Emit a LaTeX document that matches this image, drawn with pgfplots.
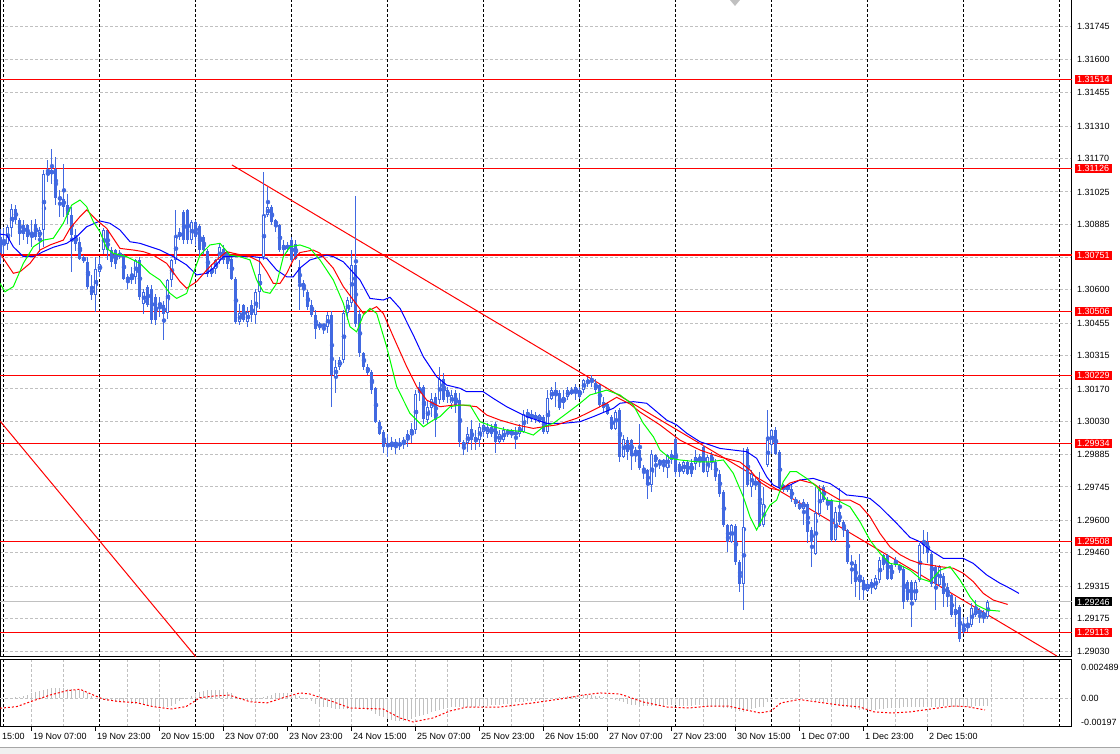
\documentclass[border=0pt]{standalone}
\usepackage{fontspec}
\setmainfont{Liberation Sans}
\usepackage{pgfplots}
\usepackage{pgfplotstable}
\pgfplotsset{compat=1.18}

\definecolor{cblue}{RGB}{65,105,225}
\definecolor{silv}{RGB}{192,192,192}
\definecolor{lime}{RGB}{0,255,0}

% bar index i (H1, 0 = 19 Nov 00:00), open, high, low, close, macd main
\pgfplotstableread{
i o h l c m
-1 1.30830 1.30867 1.30715 1.30751 -0.00008
0 1.30794 1.30867 1.30758 1.30809 0
1 1.30801 1.30881 1.30772 1.30874 0
2 1.30867 1.30975 1.30830 1.30950 0.00008
3 1.30953 1.30968 1.30888 1.30903 0.00016
4 1.30903 1.30910 1.30794 1.30845 0.00016
5 1.30881 1.30903 1.30816 1.30845 0.00024
6 1.30881 1.30888 1.30801 1.30830 0.00032
7 1.30830 1.30903 1.30787 1.30840 0.00041
8 1.30888 1.30910 1.30816 1.30830 0.00049
9 1.30830 1.30874 1.30765 1.30859 0.00057
10 1.30859 1.31123 1.30787 1.31105 0.00065
11 1.31098 1.31163 1.31069 1.31115 0.00073
12 1.31105 1.31214 1.31062 1.31120 0.00081
13 1.31123 1.31178 1.30968 1.30997 0.00081
14 1.30990 1.31033 1.30917 1.31004 0.00081
15 1.30997 1.31149 1.30917 1.30961 0.00081
16 1.30968 1.31018 1.30888 1.30924 0.00073
17 1.30924 1.30961 1.30678 1.30838 0.00073
18 1.30840 1.30867 1.30772 1.30801 0.00065
19 1.30809 1.30830 1.30729 1.30736 0.00065
20 1.30744 1.30751 1.30715 1.30726 0.00057
21 1.30722 1.30744 1.30606 1.30613 0.00041
22 1.30613 1.30664 1.30555 1.30577 0.00024
23 1.30577 1.30744 1.30505 1.30693 0.00008
24 1.30678 1.30744 1.30657 1.30715 -0.00008
25 1.30772 1.30867 1.30758 1.30859 -0.00016
26 1.30859 1.30867 1.30729 1.30772 -0.00024
27 1.30772 1.30787 1.30700 1.30722 -0.00024
28 1.30772 1.30780 1.30693 1.30715 -0.00032
29 1.30744 1.30772 1.30736 1.30758 -0.00032
30 1.30751 1.30758 1.30642 1.30649 -0.00032
31 1.30657 1.30671 1.30606 1.30642 -0.00032
32 1.30642 1.30700 1.30628 1.30664 -0.00041
33 1.30657 1.30736 1.30628 1.30729 -0.00041
34 1.30729 1.30744 1.30555 1.30570 -0.00041
35 1.30541 1.30606 1.30498 1.30592 -0.00049
36 1.30613 1.30621 1.30527 1.30534 -0.00057
37 1.30606 1.30621 1.30454 1.30469 -0.00065
38 1.30570 1.30584 1.30447 1.30469 -0.00065
39 1.30534 1.30570 1.30483 1.30541 -0.00073
40 1.30534 1.30555 1.30382 1.30498 -0.00073
41 1.30498 1.30649 1.30476 1.30642 -0.00065
42 1.30642 1.30736 1.30613 1.30729 -0.00057
43 1.30729 1.30946 1.30715 1.30830 -0.00041
44 1.30830 1.30867 1.30816 1.30852 -0.00024
45 1.30939 1.30946 1.30801 1.30816 -0.00008
46 1.30946 1.30953 1.30801 1.30816 0.00008
47 1.30816 1.30903 1.30801 1.30895 0.00024
48 1.30895 1.30903 1.30794 1.30830 0.00041
49 1.30877 1.30888 1.30744 1.30772 0.00049
50 1.30830 1.30838 1.30751 1.30772 0.00057
51 1.30772 1.30780 1.30657 1.30671 0.00065
52 1.30671 1.30715 1.30657 1.30693 0.00065
53 1.30693 1.30736 1.30671 1.30729 0.00065
54 1.30729 1.30801 1.30715 1.30787 0.00065
55 1.30780 1.30794 1.30715 1.30729 0.00057
56 1.30765 1.30772 1.30693 1.30715 0.00049
57 1.30736 1.30744 1.30642 1.30649 0.00041
58 1.30649 1.30657 1.30454 1.30462 0.00024
59 1.30462 1.30541 1.30447 1.30498 0.00008
60 1.30534 1.30541 1.30462 1.30469 -0.00008
61 1.30462 1.30527 1.30440 1.30505 -0.00016
62 1.30534 1.30555 1.30462 1.30490 -0.00024
63 1.30490 1.30606 1.30454 1.30592 -0.00016
64 1.30592 1.30744 1.30519 1.30671 -0.00008
65 1.30744 1.31113 1.30729 1.30924 0.00016
66 1.30924 1.31047 1.30917 1.30961 0.00024
67 1.30961 1.30968 1.30881 1.30895 0.00032
68 1.30903 1.30910 1.30852 1.30881 0.00041
69 1.30881 1.30888 1.30765 1.30772 0.00041
70 1.30772 1.30816 1.30758 1.30794 0.00041
71 1.30780 1.30809 1.30765 1.30794 0.00041
72 1.30816 1.30830 1.30722 1.30729 0.00041
73 1.30801 1.30816 1.30729 1.30736 0.00032
74 1.30701 1.30730 1.30513 1.30629 0.00024
75 1.30629 1.30643 1.30571 1.30607 0.00008
76 1.30592 1.30600 1.30513 1.30527 -0.00008
77 1.30535 1.30556 1.30484 1.30491 -0.00024
78 1.30491 1.30513 1.30390 1.30433 -0.00041
79 1.30448 1.30462 1.30426 1.30445 -0.00057
80 1.30448 1.30455 1.30412 1.30445 -0.00065
81 1.30440 1.30506 1.30412 1.30491 -0.00073
82 1.30491 1.30506 1.30093 1.30231 -0.00081
83 1.30223 1.30296 1.30151 1.30267 -0.00089
84 1.30267 1.30310 1.30252 1.30296 -0.00089
85 1.30296 1.30513 1.30281 1.30498 -0.00089
86 1.30498 1.30571 1.30469 1.30556 -0.00089
87 1.30542 1.30773 1.30527 1.30708 -0.00081
88 1.30708 1.31010 1.30440 1.30455 -0.00081
89 1.30498 1.30513 1.30310 1.30325 -0.00081
90 1.30325 1.30332 1.30252 1.30267 -0.00089
91 1.30267 1.30281 1.30231 1.30238 -0.00097
92 1.30245 1.30252 1.30151 1.30166 -0.00105
93 1.30173 1.30180 1.30021 1.30028 -0.00122
94 1.30028 1.30035 1.29970 1.29977 -0.00138
95 1.29985 1.29992 1.29891 1.29920 -0.00154
96 1.29931 1.29977 1.29876 1.29923 -0.00170
97 1.29923 1.29963 1.29905 1.29934 -0.00178
98 1.29941 1.29956 1.29891 1.29924 -0.00186
99 1.29934 1.29956 1.29905 1.29926 -0.00186
100 1.29934 1.29963 1.29912 1.29949 -0.00186
101 1.29949 1.29992 1.29920 1.29977 -0.00178
102 1.29970 1.30021 1.29934 1.29999 -0.00170
103 1.29992 1.30166 1.29977 1.30151 -0.00154
104 1.30151 1.30202 1.30122 1.30180 -0.00138
105 1.30180 1.30187 1.30021 1.30043 -0.00130
106 1.30035 1.30122 1.30021 1.30093 -0.00122
107 1.30086 1.30151 1.30050 1.30129 -0.00113
108 1.30137 1.30151 1.29963 1.30035 -0.00105
109 1.30122 1.30267 1.30108 1.30216 -0.00097
110 1.30216 1.30238 1.30115 1.30122 -0.00089
111 1.30166 1.30180 1.30108 1.30137 -0.00081
112 1.30108 1.30166 1.30086 1.30144 -0.00073
113 1.30151 1.30166 1.30064 1.30100 -0.00073
114 1.30122 1.30151 1.29920 1.29941 -0.00065
115 1.29941 1.29949 1.29883 1.29920 -0.00065
116 1.29934 1.30006 1.29898 1.29977 -0.00065
117 1.29999 1.30035 1.29905 1.29949 -0.00065
118 1.29963 1.29992 1.29905 1.29941 -0.00065
119 1.29949 1.30021 1.29920 1.30006 -0.00057
120 1.29985 1.30028 1.29963 1.30014 -0.00057
121 1.29977 1.30021 1.29956 1.30006 -0.00057
122 1.30006 1.30021 1.29963 1.29977 -0.00049
123 1.30021 1.30028 1.29891 1.29941 -0.00049
124 1.29941 1.29992 1.29934 1.29977 -0.00049
125 1.29949 1.30006 1.29941 1.29992 -0.00041
126 1.29977 1.29999 1.29963 1.29992 -0.00041
127 1.29992 1.29999 1.29956 1.29970 -0.00041
128 1.29985 1.30006 1.29912 1.29970 -0.00032
129 1.29977 1.30021 1.29963 1.30006 -0.00032
130 1.29985 1.30079 1.29977 1.30064 -0.00032
131 1.30050 1.30086 1.30021 1.30072 -0.00024
132 1.30064 1.30079 1.30028 1.30043 -0.00024
133 1.30057 1.30072 1.30021 1.30035 -0.00024
134 1.30028 1.30064 1.30021 1.30057 -0.00016
135 1.30050 1.30057 1.29977 1.29985 -0.00016
136 1.29985 1.30166 1.29977 1.30129 -0.00008
137 1.30129 1.30180 1.30122 1.30166 0
138 1.30151 1.30202 1.30093 1.30166 0.00008
139 1.30151 1.30166 1.30079 1.30086 0.00016
140 1.30108 1.30166 1.30086 1.30137 0.00016
141 1.30137 1.30180 1.30122 1.30166 0.00024
142 1.30166 1.30180 1.30144 1.30151 0.00024
143 1.30151 1.30195 1.30122 1.30180 0.00024
144 1.30166 1.30180 1.30129 1.30137 0.00032
145 1.30166 1.30216 1.30151 1.30209 0.00032
146 1.30195 1.30223 1.30180 1.30209 0.00032
147 1.30202 1.30231 1.30180 1.30216 0.00032
148 1.30195 1.30216 1.30151 1.30166 0.00024
149 1.30187 1.30194 1.30093 1.30100 0.00024
150 1.30115 1.30136 1.30071 1.30086 0.00016
151 1.30107 1.30115 1.30057 1.30064 0.00008
152 1.30049 1.30057 1.29992 1.29999 0
153 1.29999 1.30078 1.29992 1.30071 -0.00016
154 1.30078 1.30086 1.29854 1.29876 -0.00024
155 1.29876 1.29970 1.29869 1.29955 -0.00032
156 1.29948 1.29963 1.29861 1.29897 -0.00041
157 1.29948 1.29955 1.29818 1.29890 -0.00049
158 1.29890 1.29919 1.29854 1.29905 -0.00049
159 1.29905 1.30020 1.29818 1.29825 -0.00057
160 1.29825 1.29840 1.29782 1.29818 -0.00057
161 1.29818 1.29825 1.29695 1.29753 -0.00057
162 1.29753 1.29905 1.29724 1.29890 -0.00057
163 1.29883 1.29890 1.29789 1.29854 -0.00057
164 1.29861 1.29869 1.29825 1.29847 -0.00057
165 1.29847 1.29869 1.29811 1.29861 -0.00057
166 1.29825 1.29890 1.29782 1.29883 -0.00049
167 1.29861 1.29905 1.29847 1.29890 -0.00049
168 1.29955 1.29963 1.29789 1.29811 -0.00049
169 1.29847 1.29854 1.29789 1.29811 -0.00057
170 1.29811 1.29861 1.29803 1.29854 -0.00057
171 1.29854 1.29861 1.29796 1.29803 -0.00057
172 1.29847 1.29869 1.29789 1.29803 -0.00057
173 1.29847 1.29905 1.29818 1.29876 -0.00049
174 1.29861 1.29890 1.29832 1.29876 -0.00049
175 1.29919 1.29926 1.29803 1.29811 -0.00057
176 1.29811 1.29883 1.29789 1.29876 -0.00057
177 1.29883 1.29897 1.29818 1.29854 -0.00065
178 1.29854 1.29869 1.29774 1.29789 -0.00065
179 1.29803 1.29818 1.29702 1.29717 -0.00073
180 1.29724 1.29731 1.29572 1.29579 -0.00081
181 1.29579 1.29586 1.29463 1.29507 -0.00081
182 1.29507 1.29586 1.29500 1.29579 -0.00089
183 1.29579 1.29586 1.29406 1.29420 -0.00097
184 1.29420 1.29427 1.29290 1.29326 -0.00105
185 1.29326 1.29912 1.29210 1.29572 -0.00113
186 1.29912 1.29919 1.29746 1.29753 -0.00097
187 1.29746 1.29818 1.29702 1.29803 -0.00089
188 1.29753 1.29789 1.29731 1.29774 -0.00081
189 1.29774 1.29811 1.29572 1.29579 -0.00073
190 1.29579 1.29746 1.29572 1.29673 -0.00065
191 1.29840 1.30078 1.29832 1.29948 -0.00032
192 1.29926 1.29999 1.29890 1.29992 -0.00016
193 1.29992 1.30006 1.29883 1.29890 -0.00008
194 1.29897 1.29905 1.29738 1.29746 0
195 1.29753 1.29760 1.29724 1.29731 0.00008
196 1.29731 1.29760 1.29724 1.29753 0.00008
197 1.29738 1.29753 1.29680 1.29695 0.00008
198 1.29695 1.29702 1.29659 1.29673 0.00008
199 1.29673 1.29688 1.29644 1.29651 0
200 1.29651 1.29695 1.29579 1.29680 0
201 1.29673 1.29680 1.29500 1.29550 -0.00008
202 1.29557 1.29572 1.29398 1.29507 -0.00016
203 1.29456 1.29746 1.29449 1.29630 -0.00024
204 1.29630 1.29753 1.29615 1.29738 -0.00024
205 1.29746 1.29753 1.29681 1.29688 -0.00032
206 1.29666 1.29702 1.29645 1.29688 -0.00032
207 1.29688 1.29695 1.29507 1.29514 -0.00041
208 1.29514 1.29659 1.29507 1.29637 -0.00049
209 1.29637 1.29739 1.29579 1.29594 -0.00057
210 1.29594 1.29601 1.29529 1.29558 -0.00065
211 1.29558 1.29565 1.29413 1.29420 -0.00073
212 1.29420 1.29449 1.29326 1.29406 -0.00081
213 1.29413 1.29427 1.29268 1.29333 -0.00089
214 1.29333 1.29456 1.29254 1.29348 -0.00097
215 1.29341 1.29355 1.29254 1.29297 -0.00097
216 1.29297 1.29341 1.29290 1.29326 -0.00097
217 1.29312 1.29348 1.29283 1.29333 -0.00097
218 1.29304 1.29362 1.29297 1.29348 -0.00097
219 1.29341 1.29442 1.29326 1.29427 -0.00089
220 1.29449 1.29456 1.29384 1.29406 -0.00089
221 1.29449 1.29456 1.29341 1.29348 -0.00081
222 1.29406 1.29413 1.29341 1.29348 -0.00081
223 1.29406 1.29442 1.29399 1.29427 -0.00081
224 1.29391 1.29413 1.29370 1.29406 -0.00081
225 1.29391 1.29406 1.29218 1.29247 -0.00073
226 1.29333 1.29341 1.29247 1.29254 -0.00073
227 1.29333 1.29341 1.29138 1.29254 -0.00073
228 1.29254 1.29341 1.29247 1.29333 -0.00073
229 1.29341 1.29500 1.29333 1.29493 -0.00065
230 1.29493 1.29558 1.29456 1.29507 -0.00065
231 1.29507 1.29550 1.29413 1.29456 -0.00065
232 1.29456 1.29464 1.29312 1.29326 -0.00065
233 1.29399 1.29406 1.29210 1.29326 -0.00065
234 1.29319 1.29406 1.29312 1.29399 -0.00065
235 1.29362 1.29370 1.29225 1.29283 -0.00057
236 1.29312 1.29326 1.29225 1.29268 -0.00057
237 1.29276 1.29283 1.29181 1.29189 -0.00065
238 1.29189 1.29268 1.29138 1.29218 -0.00065
239 1.29225 1.29232 1.29073 1.29087 -0.00073
240 1.29116 1.29181 1.29109 1.29138 -0.00073
241 1.29138 1.29181 1.29116 1.29145 -0.00065
242 1.29145 1.29239 1.29138 1.29218 -0.00065
243 1.29189 1.29254 1.29181 1.29218 -0.00057
244 1.29210 1.29218 1.29153 1.29196 -0.00057
245 1.29203 1.29210 1.29153 1.29181 -0.00057
246 1.29181 1.29254 1.29174 1.29246 -0.00057
}\candles

\tikzset{mtgrid/.style={dash pattern=on 3pt off 2pt, line width=1pt}}
\pgfplotsset{
  mtaxis/.style={
    scale only axis, width=1072pt, xmin=-1, xmax=267,
    clip mode=individual, scaled y ticks=false,
    axis line style={black, line width=1pt},
    minor xtick={7,15,31,39,55,63,79,87,103,111,127,135,151,159,175,183,199,207,223,231,247,255},
    xminorgrids, minor grid style={silv, mtgrid}, minor tick length=0pt,
    extra x ticks={0,24,...,264}, extra x tick labels={},
    extra x tick style={grid=major, major grid style={black, mtgrid}, major tick length=0pt},
    ytick pos=right, yticklabel pos=right,
    yticklabel style={anchor=west, inner sep=0pt, xshift=5pt, font=\fontsize{9}{9}\selectfont},
  },
  wick/.style={cblue, only marks, mark=none, forget plot,
    error bars/y dir=both, error bars/y explicit, error bars/error mark=none,
    error bars/error bar style={line width=1pt}},
}
\tikzset{pricebox/.style={anchor=west, xshift=2.5pt, inner xsep=2.5pt, inner ysep=1.3pt,
    text=white, font=\fontsize{9}{9}\selectfont}}

\begin{document}
\begin{tikzpicture}
\path[use as bounding box, fill=white] (0,0) rectangle (1120pt,754pt);

% ---------------- main price panel ----------------
\begin{axis}[mtaxis,
  at={(0pt,97pt)}, anchor=south west, height=657pt,
  ymin=1.29007, ymax=1.31858,
  xtick=\empty,
  ytick={1.31745,1.31600,1.31455,1.31310,1.31170,1.31025,1.30885,1.30740,1.30600,1.30455,
         1.30315,1.30170,1.30030,1.29885,1.29745,1.29600,1.29460,1.29315,1.29175,1.29030},
  yticklabels={1.31745,1.31600,1.31455,1.31310,1.31170,1.31025,1.30885,,1.30600,1.30455,
         1.30315,1.30170,1.30030,1.29885,1.29745,1.29600,1.29460,1.29315,1.29175,1.29030},
  ymajorgrids, major grid style={silv, mtgrid}, major tick length=0pt,
]
% bid line
\addplot[silv, line width=1pt] coordinates {(-1,1.29246) (267,1.29246)};
% horizontal levels
\foreach \lv in {1.31514,1.31126,1.30751,1.30506,1.30229,1.29934,1.29508,1.29113}{
  \edef\tmp{\noexpand\addplot[red, line width=1.5pt] coordinates {(-1,\lv) (267,\lv)};}\tmp
}
% trend lines
\addplot[red, line width=1pt] coordinates {(57,1.31142) (263.25,1.29011)};
\addplot[red, line width=1pt] coordinates {(-1,1.30031) (48,1.29007)};

% candles: wicks, bodies, hollow interior of up candles
\addplot[wick] table[x=i, y expr={(\thisrow{h}+\thisrow{l})/2},
  y error expr={(\thisrow{h}-\thisrow{l})/2}] {\candles};
\addplot[wick, error bars/error bar style={line width=3pt}] table[x=i, y expr={(\thisrow{o}+\thisrow{c})/2},
  y error expr={max(abs(\thisrow{o}-\thisrow{c})/2,0.00002)}] {\candles};
\addplot[restrict y to domain=1.2:1.4, wick, error bars/error bar style={line width=1pt, white}]
  table[x=i, y expr={ifthenelse(\thisrow{c}>\thisrow{o},(\thisrow{o}+\thisrow{c})/2,5)},
  y error expr={max((\thisrow{c}-\thisrow{o})/2-0.0000434,0)}] {\candles};

% alligator lines
\addplot[blue, line width=1pt] coordinates {
(-1,1.30842) (0.67,1.30838) (2.33,1.30787) (4.83,1.30744) (7.33,1.30744) (9.83,1.30766) (12.33,1.30785)
(15.67,1.30802) (18.17,1.30831) (20.67,1.30874) (24,1.30899) (26.5,1.30889) (29,1.30860) (31.5,1.30809)
(34,1.30802) (39,1.30773) (42.33,1.30744) (45.67,1.30708) (48.17,1.30665) (50.67,1.30672) (52.33,1.30694)
(54.83,1.30744) (62.33,1.30744) (65.67,1.30737) (68.17,1.30686) (70.67,1.30657) (72.33,1.30657) (74,1.30695)
(76.5,1.30730) (80.67,1.30751) (82.33,1.30744) (84.83,1.30722) (89,1.30643) (91.5,1.30563) (94.83,1.30556)
(96.5,1.30568) (99,1.30520) (102.33,1.30404) (104.83,1.30310) (108.17,1.30223) (110.67,1.30187) (114,1.30173)
(115.67,1.30158) (119.83,1.30158) (122.33,1.30129) (125.67,1.30093) (130.67,1.30050) (135.67,1.30021)
(139.83,1.30021) (144,1.30028) (147.33,1.30050) (152.33,1.30086) (154,1.30108) (157.33,1.30115) (160.67,1.30108)
(165.67,1.30035) (168.17,1.30014) (170.67,1.29978) (174,1.29941) (176.5,1.29927) (179,1.29912) (182.33,1.29905)
(185.67,1.29898) (188.17,1.29869) (190.67,1.29789) (192.33,1.29753) (194,1.29739) (196.5,1.29753) (199,1.29775)
(202.33,1.29782) (204.83,1.29768) (206.5,1.29760) (209,1.29731) (210.67,1.29710) (214.83,1.29702) (216.5,1.29695)
(219,1.29659) (223.17,1.29587) (226.5,1.29526) (229,1.29507) (231.5,1.29471) (234.83,1.29435) (239.83,1.29435)
(242.33,1.29413) (245.67,1.29363) (249,1.29327) (251.5,1.29305) (253.75,1.29283)};
\addplot[red, line width=1pt] coordinates {
(-1,1.30759) (0.67,1.30715) (2.33,1.30672) (4,1.30679) (6.5,1.30715) (9,1.30773) (11.5,1.30795) (14.83,1.30816)
(16.5,1.30867) (19,1.30918) (20.67,1.30947) (23.17,1.30903) (25.67,1.30867) (29,1.30780) (32.33,1.30773)
(34.83,1.30766) (37.33,1.30751) (40.67,1.30715) (44,1.30636) (45.67,1.30607) (48.17,1.30636) (50.67,1.30686)
(53.17,1.30730) (55.67,1.30766) (57.33,1.30759) (61.5,1.30744) (64,1.30722) (65.67,1.30679) (67.33,1.30628)
(69,1.30628) (70.67,1.30672) (72.33,1.30730) (74,1.30762) (77.33,1.30773) (79,1.30759) (82.33,1.30694)
(84.83,1.30614) (87.33,1.30556) (89.83,1.30498) (91.5,1.30513) (93.17,1.30527) (94.83,1.30498) (97.33,1.30397)
(100.67,1.30267) (103.17,1.30180) (105.67,1.30122) (109,1.30093) (112.33,1.30100) (114.83,1.30100) (118.17,1.30093)
(120.67,1.30057) (124,1.30035) (128.17,1.30014) (132.33,1.29999) (134.83,1.30006) (138.17,1.30014) (143.17,1.30043)
(146.5,1.30071) (150.67,1.30108) (153.17,1.30134) (156.5,1.30105) (159,1.30070) (164,1.30014) (169,1.29948)
(174,1.29905) (179,1.29875) (184,1.29853) (186.5,1.29818) (189,1.29766) (191.5,1.29739) (194,1.29731)
(196.5,1.29762) (199,1.29775) (202.33,1.29760) (204,1.29739) (209,1.29688) (211.5,1.29688) (214,1.29666)
(216.5,1.29616) (219,1.29543) (221.5,1.29485) (224,1.29451) (226.5,1.29428) (229,1.29413) (231.5,1.29406)
(234,1.29399) (237.33,1.29392) (239.83,1.29370) (242.33,1.29334) (244.83,1.29283) (247.33,1.29254) (250.92,1.29235)};
\addplot[lime, line width=1pt] coordinates {
(-1,1.30628) (0.25,1.30592) (2.33,1.30614) (4.83,1.30715) (7.33,1.30787) (9.83,1.30816) (12.33,1.30824)
(14.83,1.30889) (16.92,1.30968) (19,1.30990) (20.67,1.30961) (22.33,1.30896) (24,1.30852) (25.67,1.30780)
(27.33,1.30759) (30.67,1.30744) (34,1.30715) (36.5,1.30672) (39,1.30643) (41.5,1.30585) (43.17,1.30563)
(45.67,1.30585) (47.33,1.30672) (49,1.30751) (51.5,1.30795) (54,1.30802) (56.5,1.30751) (59,1.30744)
(61.5,1.30730) (63.17,1.30643) (64.83,1.30592) (66.5,1.30585) (68.17,1.30628) (69.83,1.30744) (71.5,1.30787)
(74,1.30795) (76.5,1.30780) (79,1.30730) (82.33,1.30643) (84.83,1.30542) (86.5,1.30440) (88.17,1.30418)
(89.83,1.30491) (91.5,1.30520) (93.17,1.30498) (95.67,1.30353) (98.17,1.30180) (101.5,1.30064) (104.83,1.30006)
(107.33,1.30035) (109,1.30050) (111.5,1.30093) (114,1.30100) (116.5,1.30100) (119,1.30028) (122.33,1.30006)
(125.67,1.29992) (129.83,1.29985) (132.33,1.29970) (134.83,1.30006) (137.33,1.30021) (140.67,1.30064)
(144,1.30108) (146.5,1.30144) (150.67,1.30165) (154,1.30144) (157.33,1.30100) (159.83,1.30021) (162.33,1.29963)
(164,1.29905) (166.5,1.29869) (169,1.29862) (173.17,1.29854) (176.5,1.29854) (179.83,1.29862) (182.33,1.29804)
(184.83,1.29702) (186.5,1.29616) (188.17,1.29558) (189.83,1.29616) (191.5,1.29666) (193.17,1.29688)
(194.83,1.29768) (196.5,1.29811) (198.17,1.29811) (200.67,1.29782) (203.17,1.29746) (205.67,1.29688)
(209,1.29681) (211.5,1.29659) (214,1.29594) (216.5,1.29514) (219,1.29457) (221.5,1.29413) (224,1.29406)
(226.5,1.29384) (229,1.29348) (231.5,1.29334) (234,1.29384) (236.5,1.29399) (239,1.29341) (241.5,1.29268)
(243.17,1.29232) (245.67,1.29211) (249,1.29206)};

% price labels on the right scale
\foreach \lv in {1.31514,1.31126,1.30751,1.30506,1.30229,1.29934,1.29508,1.29113}{
  \edef\tmp{\noexpand\node[pricebox, fill=red] at (axis cs:267,\lv) {\lv};}\tmp
}
\node[pricebox, fill=black] at (axis cs:267,1.29246) {1.29246};
\end{axis}

% ---------------- MACD panel ----------------
\begin{axis}[mtaxis,
  at={(0pt,27pt)}, anchor=south west, height=67pt,
  ymin=-0.00231, ymax=0.00312,
  xtick={7,23,39,55,71,87,103,119,135,151,167,183,199,215,231},
  xticklabels={19 Nov 07:00,19 Nov 23:00,20 Nov 15:00,23 Nov 07:00,23 Nov 23:00,24 Nov 15:00,
    25 Nov 07:00,25 Nov 23:00,26 Nov 15:00,27 Nov 07:00,27 Nov 23:00,30 Nov 15:00,
    1 Dec 07:00,1 Dec 23:00,2 Dec 15:00},
  xtick pos=bottom, tick align=outside, major tick length=4pt,
  x tick style={black, line width=1pt},
  xticklabel style={anchor=north west, inner sep=0pt, xshift=1pt, yshift=-2pt,
    font=\fontsize{9}{9}\selectfont},
  ytick={0}, yticklabels={0.00},
  ymajorgrids, major grid style={silv, mtgrid},
  y tick style={draw=none},
  extra y ticks={0.002489,-0.00197}, extra y tick labels={0.002489,-0.00197},
  extra y tick style={grid=none},
]
\addplot[ycomb, silv, line width=1pt, mark=none] table[x=i, y=m] {\candles};
\addplot[red, line width=1pt, dash pattern=on 2pt off 2pt] coordinates {
(-1,-0.00079) (3.17,-0.00066) (7.33,-0.00018) (11.5,0.00028) (15.67,0.00063) (19,0.00075) (22.33,0.00028)
(24.83,-0.00006) (29,-0.00026) (33.17,-0.00034) (37.25,-0.00066) (41.75,-0.00085) (45.5,-0.00066) (49,0.00006)
(52.5,0.00020) (56.25,0.00028) (59.75,-0.00008) (61.5,-0.00026) (65.75,-0.00036) (69.75,0.00006) (74,0.00045)
(76.5,0.00036) (82.25,-0.00026) (86.5,-0.00077) (94.75,-0.00085) (99,-0.00158) (102.25,-0.00190) (107.25,-0.00158)
(111.5,-0.00101) (115.75,-0.00069) (124,-0.00069) (132.25,-0.00036) (140.75,0.00004) (144.75,0.00028)
(149,0.00045) (154,0.00036) (159.75,-0.00028) (165.75,-0.00069) (171.25,-0.00077) (176.5,-0.00061) (181,-0.00061)
(185.5,-0.00093) (189,-0.00117) (191.75,-0.00101) (194.25,-0.00036) (198.75,-0.00008) (203.25,-0.00028)
(208.75,-0.00053) (214,-0.00069) (217.5,-0.00109) (222,-0.00117) (226.5,-0.00109) (231.75,-0.00085)
(237.25,-0.00061) (240.75,-0.00066) (245.25,-0.00093)};
\end{axis}

% cut-off first time label, chart-shift marker, bottom strip
\node[anchor=north west, inner sep=0pt, font=\fontsize{9}{9}\selectfont] at (2pt,21pt) {15:00};
\fill[silv] (730pt,754pt) -- (740pt,754pt) -- (735pt,748pt) -- cycle;
\fill[black!6] (0pt,0pt) rectangle (1120pt,6pt);
\draw[black!35, line width=1pt] (0pt,6pt) -- (1120pt,6pt);
\end{tikzpicture}
\end{document}
